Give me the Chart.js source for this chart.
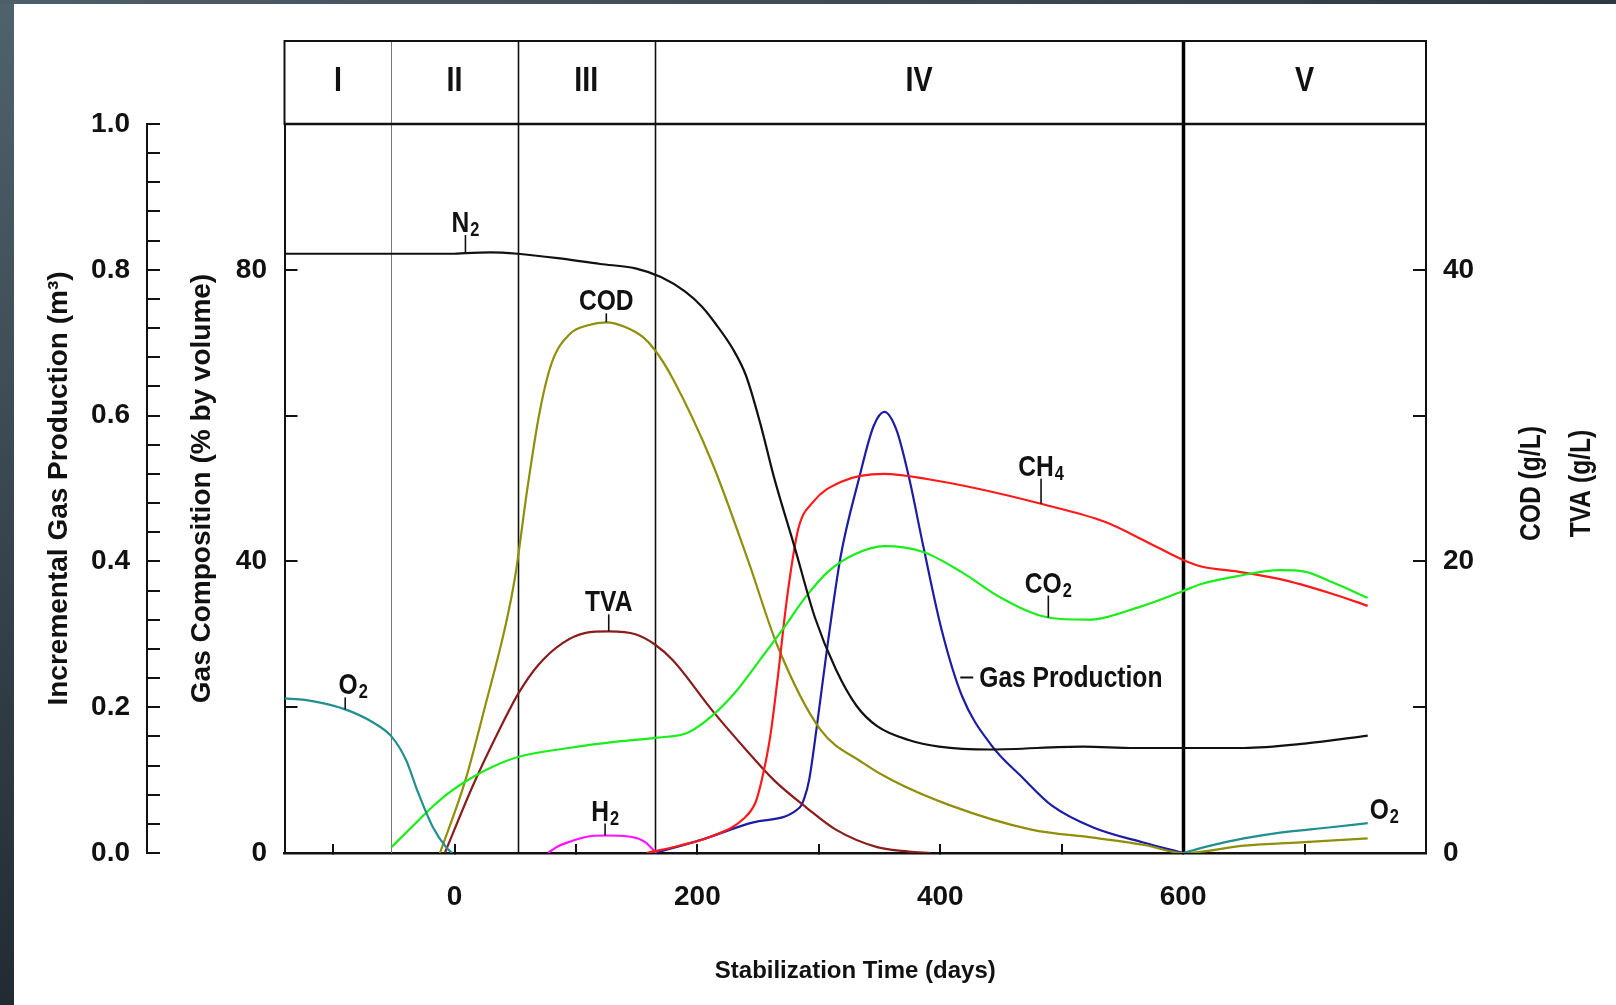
<!DOCTYPE html>
<html>
<head>
<meta charset="utf-8">
<title>Landfill stabilization phases</title>
<script src="https://cdn.jsdelivr.net/npm/chart.js@4.4.1/dist/chart.umd.min.js"></script>
<style>
  html, body { margin: 0; padding: 0; background: #fff; }
  body { width: 1616px; height: 1005px; position: relative; overflow: hidden; }
  #edgeLeft { position: absolute; left: 0; top: 0; width: 14px; height: 1005px; background: linear-gradient(#50626c, #222b33); }
  #edgeTop { position: absolute; left: 0; top: 0; width: 1616px; height: 4px; background: linear-gradient(90deg, #4d5f69, #2c3943); }
  #c { position: absolute; left: 0; top: 0; }
</style>
</head>
<body>
<div id="edgeLeft"></div>
<div id="edgeTop"></div>
<canvas id="c" width="1616" height="1005"></canvas>
<script>
const FONT = "'Liberation Sans', Arial, sans-serif";
const INK = '#111';
const SQUEEZE = 0.82; // narrow look for the hand-placed labels

// phases along the time axis
const phaseBounds = [-52, 52, 165, 600];
const phaseNames = ['I', 'II', 'III', 'IV', 'V'];

// ticks
const dayTicks = [-100, 0, 100, 200, 300, 400, 500, 600, 700];
const dayLabels = ['', '0', '', '200', '', '400', '', '600', ''];
const gasTicks = Array.from({ length: 26 }, (_, i) => +(i * 0.04).toFixed(2));
const gasLabels = gasTicks.map((v, i) => i % 5 === 0 ? v.toFixed(1) : '');
const compTicks = [0, 20, 40, 60, 80, 100];
const compLabels = ['0', '', '40', '', '80', ''];
const codTicks = [0, 10, 20, 30, 40, 50];
const codLabels = ['0', '', '20', '', '40', ''];

// gas composition (% by volume)
const n2Days = [-140, -100, -52, 0, 9, 30, 52, 85, 120, 149, 170, 190, 204, 215, 229, 240, 252, 263, 280, 297, 314, 331, 348, 374, 399, 441, 518, 560, 600, 650, 700, 752];
const n2Vals = [82.2, 82.2, 82.2, 82.2, 82.3, 82.4, 82.2, 81.6, 80.8, 80.2, 79.0, 77.0, 74.9, 72.6, 69.2, 65.5, 58.8, 51.6, 42.0, 32.2, 25.2, 20.2, 17.4, 15.5, 14.6, 14.2, 14.6, 14.4, 14.4, 14.4, 15.0, 16.1];

const o2Days = [-140, -123, -90, -67, -52, -40, -30, -18, -7, -2, 300, 600, 620, 650, 680, 720, 752];
const o2Vals = [21.2, 21.0, 19.7, 17.9, 16.0, 12.8, 8.3, 3.6, 0.8, 0, null, 0, 0.9, 2.0, 2.8, 3.5, 4.1];

const co2Days = [-52, -35, -21, -5, 9, 31, 53, 94, 135, 165, 192, 212, 233, 252, 272, 290, 307, 330, 354, 386, 418, 448, 489, 521, 565, 598, 615, 645, 680, 700, 722, 752];
const co2Vals = [0.8, 3.6, 5.9, 8.2, 9.8, 11.8, 13.2, 14.4, 15.3, 15.8, 16.5, 18.8, 22.4, 26.6, 31.1, 35.3, 38.5, 41.0, 42.1, 41.3, 38.5, 35.2, 32.3, 32.0, 33.8, 35.8, 36.9, 38.0, 38.8, 38.6, 37.2, 35.0];

const ch4Days = [158, 185, 212, 238, 248, 253, 260, 266, 274, 283, 295, 318, 354, 389, 433, 483, 536, 571, 600, 615, 645, 679, 722, 752];
const ch4Vals = [0, 1.0, 2.3, 4.7, 7.0, 10.0, 16.0, 23.8, 35.2, 44.4, 48.1, 50.9, 52.0, 51.3, 49.9, 47.9, 45.4, 42.6, 40.2, 39.3, 38.6, 37.6, 35.6, 33.9];

const h2Days = [77, 85, 94, 108, 124, 146, 157, 166];
const h2Vals = [0, 0.9, 1.5, 2.2, 2.4, 2.2, 1.5, 0];

// leachate (g/L)
const codDays = [-12, 9, 25, 42, 50, 60, 70, 80, 95, 110, 125, 140, 155, 165, 180, 212, 242, 266, 301, 336, 360, 407, 475, 526, 568, 600, 650, 700, 752];
const codVals = [0, 5.0, 10.0, 15.6, 19.0, 25.0, 30.2, 33.6, 35.6, 36.2, 36.4, 36.1, 35.4, 34.5, 32.5, 26.8, 20.0, 14.2, 8.5, 6.2, 5.0, 3.3, 1.6, 1.05, 0.55, 0, 0.5, 0.75, 1.0];

const tvaDays = [-8, 15, 36, 53, 69, 89, 108, 127, 149, 165, 180, 212, 242, 263, 290, 314, 348, 374, 392];
const tvaVals = [0, 4.6, 8.3, 11.0, 12.9, 14.4, 15.1, 15.2, 15.0, 14.3, 13.2, 9.8, 6.9, 5.0, 3.1, 1.6, 0.4, 0.1, 0];

// incremental gas production (m3)
const gasDays = [165, 203, 246, 284, 288, 292, 298, 307, 318, 333, 345, 354, 364, 374, 386, 401, 418, 442, 468, 492, 526, 568, 600];
const gasVals = [0, 0.018, 0.042, 0.062, 0.075, 0.10, 0.169, 0.283, 0.407, 0.513, 0.585, 0.605, 0.58, 0.517, 0.421, 0.307, 0.215, 0.148, 0.103, 0.065, 0.035, 0.014, 0];

const pts = (days, vals) => days.map((d, i) => ({ x: d, y: vals[i] }));

const series = [
  { key: 'n2', label: 'N2', days: n2Days, vals: n2Vals, axis: 'yComp', color: '#111111' },
  { key: 'o2', label: 'O2', days: o2Days, vals: o2Vals, axis: 'yComp', color: '#20908f' },
  { key: 'co2', label: 'CO2', days: co2Days, vals: co2Vals, axis: 'yComp', color: '#1aee1a' },
  { key: 'ch4', label: 'CH4', days: ch4Days, vals: ch4Vals, axis: 'yComp', color: '#ff1a1a' },
  { key: 'h2', label: 'H2', days: h2Days, vals: h2Vals, axis: 'yComp', color: '#ff10ff' },
  { key: 'cod', label: 'COD', days: codDays, vals: codVals, axis: 'yCod', color: '#8f8f0a' },
  { key: 'tva', label: 'TVA', days: tvaDays, vals: tvaVals, axis: 'yCod', color: '#8b1c1c' },
  { key: 'gas', label: 'Gas Production', days: gasDays, vals: gasVals, axis: 'yGas', color: '#1c1ca6' }
];

// curve labels, anchored on a day of a series
const curveLabels = [
  { series: 'n2', day: 9, text: 'N', sub: '2', leader: 18 },
  { series: 'cod', day: 125, text: 'COD', leader: 9 },
  { series: 'tva', day: 127, text: 'TVA', leader: 17 },
  { series: 'h2', day: 124, text: 'H', sub: '2', leader: 12 },
  { series: 'o2', day: -90, text: 'O', sub: '2', leader: 12, dx: 8 },
  { series: 'ch4', day: 483, text: 'CH', sub: '4', leader: 25 },
  { series: 'co2', day: 489, text: 'CO', sub: '2', leader: 22 },
  { series: 'gas', day: 414, text: 'Gas Production', side: true },
  { series: 'o2', day: 752, text: 'O', sub: '2', end: true }
];

function valueAt(s, day) {
  for (let i = 0; i < s.days.length - 1; i++) {
    const a = s.days[i], b = s.days[i + 1];
    if (day >= a && day <= b && s.vals[i] != null && s.vals[i + 1] != null) {
      return s.vals[i] + (s.vals[i + 1] - s.vals[i]) * (day - a) / (b - a);
    }
  }
  return s.vals[s.days.indexOf(day)];
}

const labelFont = size => 'bold ' + size + 'px ' + FONT;

// squeezed text, x is the left edge
function narrowText(ctx, text, x, y, size) {
  ctx.font = labelFont(size);
  ctx.save();
  ctx.translate(x, y);
  ctx.scale(SQUEEZE, 1);
  ctx.fillText(text, 0, 0);
  ctx.restore();
}
function narrowWidth(ctx, text, size) {
  ctx.font = labelFont(size);
  return ctx.measureText(text).width * SQUEEZE;
}

const decorPlugin = {
  id: 'decor',
  beforeDatasetsDraw(chart) {
    const { ctx, chartArea, scales: { x } } = chart;
    const top = chartArea.top - 83;
    const widths = [1, 1.6, 1.6, 3.5];
    const colors = ['#777', INK, INK, '#000'];
    ctx.save();
    phaseBounds.forEach((d, i) => {
      const px = Math.round(x.getPixelForValue(d)) + 0.5;
      ctx.strokeStyle = colors[i];
      ctx.lineWidth = widths[i];
      ctx.beginPath();
      ctx.moveTo(px, top);
      ctx.lineTo(px, chartArea.bottom);
      ctx.stroke();
    });
    ctx.restore();
  },
  afterDatasetsDraw(chart) {
    const { ctx, scales } = chart;
    const main = 30, small = 20;
    ctx.save();
    ctx.fillStyle = INK;
    ctx.strokeStyle = INK;
    ctx.textAlign = 'left';
    curveLabels.forEach(l => {
      const s = series.find(q => q.key === l.series);
      const px = scales.x.getPixelForValue(l.day);
      const py = scales[s.axis].getPixelForValue(valueAt(s, l.day));
      const w1 = narrowWidth(ctx, l.text, main);
      const w2 = l.sub ? narrowWidth(ctx, l.sub, small) + 1 : 0;
      if (l.side) {
        ctx.lineWidth = 2;
        ctx.beginPath();
        ctx.moveTo(px + 3, py - 3);
        ctx.lineTo(px + 16, py - 3);
        ctx.stroke();
        ctx.textBaseline = 'middle';
        narrowText(ctx, l.text, px + 22, py - 2, main);
        return;
      }
      let x0, base;
      if (l.end) {
        x0 = px + 2;
        base = py - 4;
      } else {
        ctx.lineWidth = 1.6;
        ctx.beginPath();
        ctx.moveTo(px, py);
        ctx.lineTo(px, py - l.leader);
        ctx.stroke();
        x0 = px + (l.dx || 0) - (w1 + w2) / 2;
        base = py - l.leader - 3;
      }
      ctx.textBaseline = 'alphabetic';
      narrowText(ctx, l.text, x0, base, main);
      if (l.sub) narrowText(ctx, l.sub, x0 + w1 + 1, base + 4, small);
    });
    ctx.restore();
  },
  afterDraw(chart) {
    const { ctx, chartArea, scales: { x } } = chart;
    const top = chartArea.top - 83;
    ctx.save();
    ctx.strokeStyle = INK;
    ctx.lineWidth = 2;
    ctx.strokeRect(chartArea.left, top, chartArea.right - chartArea.left, chartArea.top - top);
    ctx.lineWidth = 2.5;
    ctx.beginPath();
    ctx.moveTo(chartArea.left, chartArea.top);
    ctx.lineTo(chartArea.right, chartArea.top);
    ctx.stroke();

    // phase names
    const edges = [x.min, ...phaseBounds, x.max];
    ctx.fillStyle = INK;
    ctx.textAlign = 'left';
    ctx.textBaseline = 'middle';
    phaseNames.forEach((n, i) => {
      const cx = (x.getPixelForValue(edges[i]) + x.getPixelForValue(edges[i + 1])) / 2;
      narrowText(ctx, n, cx - narrowWidth(ctx, n, 35) / 2, top + 40, 35);
    });

    // right-hand axis titles, reading upwards
    const midY = (chartArea.top + chartArea.bottom) / 2 - 5;
    [['COD (g/L)', 106], ['TVA (g/L)', 156]].forEach(([t, off]) => {
      ctx.save();
      ctx.translate(chartArea.right + off, midY);
      ctx.rotate(-Math.PI / 2);
      narrowText(ctx, t, -narrowWidth(ctx, t, 30) / 2, 0, 30);
      ctx.restore();
    });
    ctx.restore();
  }
};

const tickFont = { family: FONT, size: 28, weight: 'bold' };
const titleFont = { family: FONT, size: 28, weight: 'bold' };

function yAxis(opts) {
  return {
    position: opts.position,
    weight: opts.weight || 0,
    min: opts.min,
    max: opts.max,
    afterBuildTicks: s => { s.ticks = opts.ticks.map(v => ({ value: v })); },
    afterFit: s => { s.width = opts.width; },
    ticks: {
      autoSkip: false,
      callback: (v, i) => opts.labels[i],
      font: tickFont,
      color: INK,
      padding: opts.padding
    },
    grid: { drawOnChartArea: false, tickLength: -13, lineWidth: 2, color: INK },
    border: { color: INK, width: 2 },
    title: opts.title
      ? { display: true, text: opts.title, font: titleFont, color: INK, padding: { top: opts.titlePad, bottom: 0 } }
      : { display: false }
  };
}

Chart.defaults.font.family = FONT;

new Chart(document.getElementById('c'), {
  type: 'line',
  data: {
    datasets: series.map(s => ({
      label: s.label,
      data: pts(s.days, s.vals),
      yAxisID: s.axis,
      borderColor: s.color,
      borderWidth: 2.2,
      pointRadius: 0,
      fill: false,
      cubicInterpolationMode: 'monotone',
      spanGaps: false
    }))
  },
  options: {
    responsive: false,
    animation: false,
    layout: { padding: { top: 124, left: 0, right: 0, bottom: 0 } },
    plugins: { legend: { display: false }, tooltip: { enabled: false } },
    scales: {
      x: {
        type: 'linear',
        min: -140,
        max: 800,
        afterBuildTicks: s => { s.ticks = dayTicks.map(v => ({ value: v })); },
        afterFit: s => { s.height = 152; },
        ticks: { autoSkip: false, maxRotation: 0, callback: (v, i) => dayLabels[i], font: tickFont, color: INK, padding: 36 },
        grid: { drawOnChartArea: false, tickLength: -9, lineWidth: 2, color: INK },
        border: { color: INK, width: 2.5 },
        title: { display: true, text: 'Stabilization Time (days)', font: { family: FONT, size: 24, weight: 'bold' }, color: INK, padding: { top: 0, bottom: 19 } }
      },
      yGas: yAxis({ position: 'left', weight: 1, min: 0, max: 1, ticks: gasTicks, labels: gasLabels, width: 147, padding: 30, title: 'Incremental Gas Production (m³)', titlePad: 42 }),
      yComp: yAxis({ position: 'left', weight: 0, min: 0, max: 100, ticks: compTicks, labels: compLabels, width: 137.5, padding: 30.5, title: 'Gas Composition (% by volume)', titlePad: 38 }),
      yCod: yAxis({ position: 'right', min: 0, max: 50, ticks: codTicks, labels: codLabels, width: 190, padding: 30 })
    }
  },
  plugins: [decorPlugin]
});
</script>
</body>
</html>
